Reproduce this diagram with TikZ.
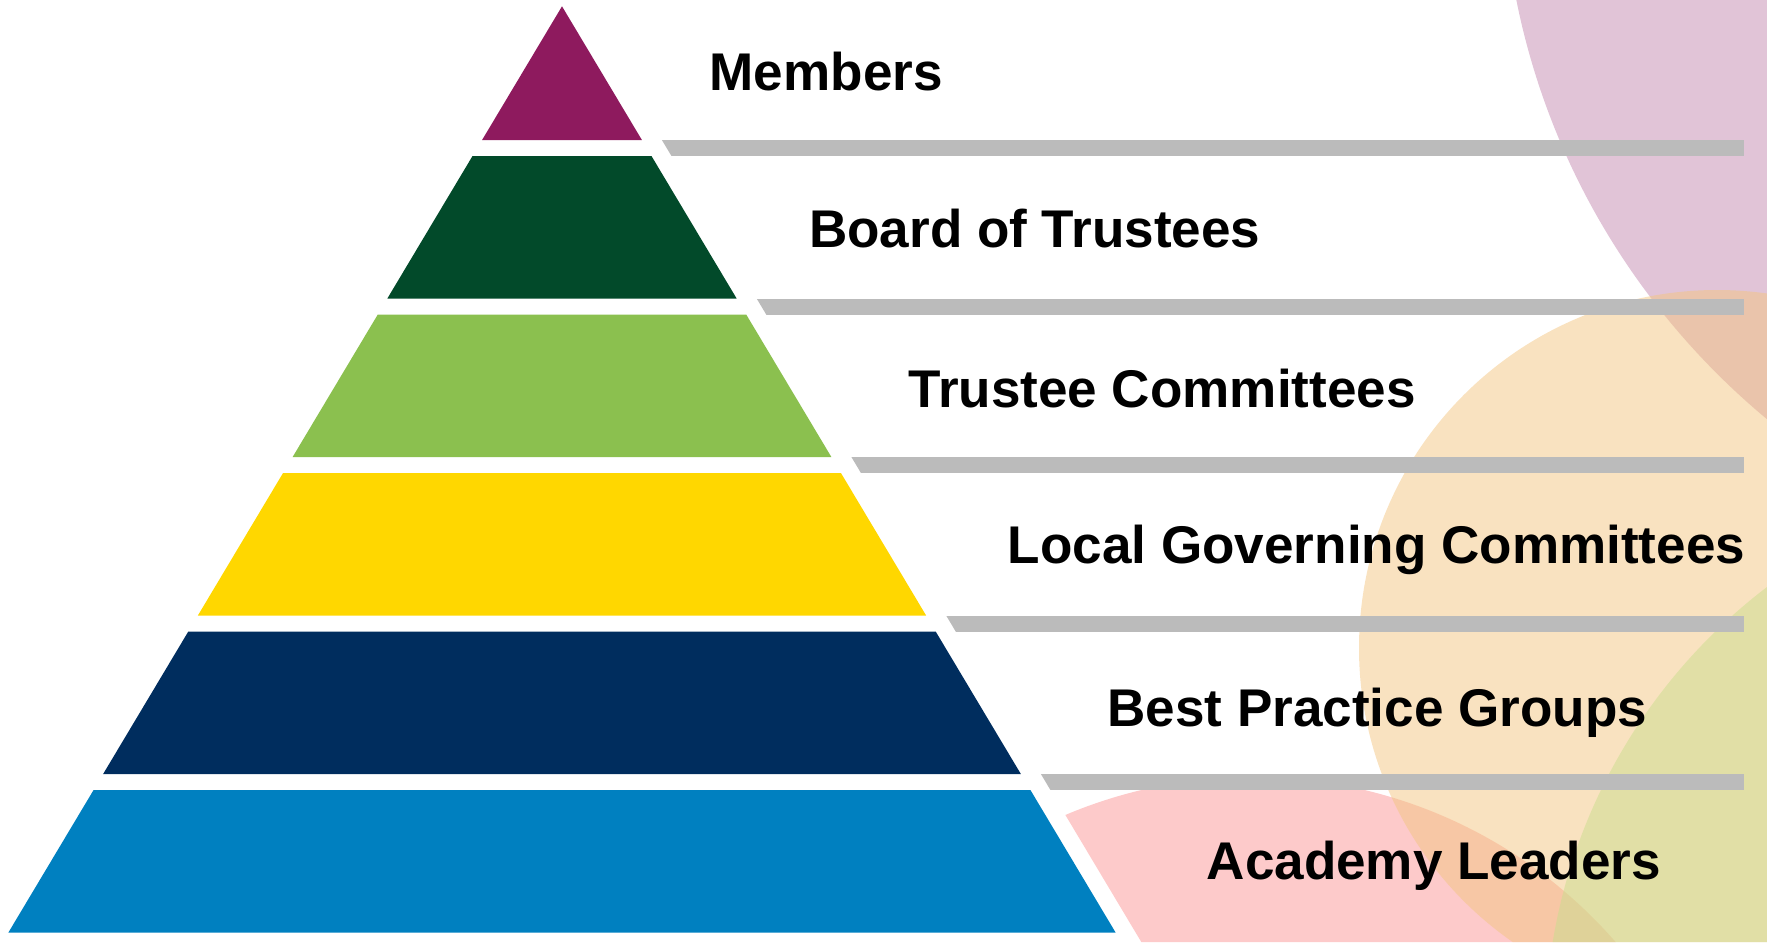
\documentclass[tikz,border=0pt]{standalone}
\usepackage{fontspec}
\setmainfont{Liberation Sans}
\definecolor{members}{HTML}{8E1A5E}
\definecolor{board}{HTML}{024A2A}
\definecolor{trustee}{HTML}{8BC04F}
\definecolor{localgov}{HTML}{FFD700}
\definecolor{bestpr}{HTML}{002D5E}
\definecolor{academy}{HTML}{0080C0}
\definecolor{divbar}{HTML}{BBBBBB}
\definecolor{blobpurple}{RGB}{195,137,175}
\definecolor{blobpeach}{RGB}{243,197,129}
\definecolor{blobpink}{RGB}{251,149,149}
\definecolor{blobgreen}{RGB}{201,222,142}

\begin{document}
\begin{tikzpicture}[% coordinates in pixels, y down
		x=0.1mm, y=-0.1mm,
		every node/.style={
			anchor=base west,	% text starts at the given point
			inner sep=0pt,
			font=\fontsize{15.1}{18}\selectfont\bfseries
		},
		blob/.style={fill opacity=.5}
	]
	\useasboundingbox (0,0) rectangle (1767,942);
	% background circles and bars, kept off the pyramid
	\begin{scope}
		\clip (578.2,0) -- (1141.3,942) -- (1767,942) -- (1767,0) -- cycle;
		\fill[blobpurple,blob] (2235,-145) circle[radius=733];
		\fill[blobpink,blob] (1253,1258) circle[radius=481];
		\fill[blobpeach,blob] (1717,648) circle[radius=358];
		\fill[blobgreen,blob] (2108,1035) circle[radius=563];
		\foreach \yt in {140,298.5,457,615.5,774}
			\fill[divbar] (500,\yt) rectangle (1744,\yt+16);
	\end{scope}
	% pyramid layers
	\foreach \col/\yt/\yb in {members/6.3/140, board/156/298.5, trustee/314.5/457,
		localgov/473/615.5, bestpr/631.5/774, academy/790/932.5}{
		\pgfmathsetmacro\dt{0.5977*(\yt-6.3)}
		\pgfmathsetmacro\db{0.5977*(\yb-6.3)}
		\fill[\col] (562-\dt,\yt) -- (562+\dt,\yt) -- (562+\db,\yb) -- (562-\db,\yb) -- cycle;
	}
	\node (L1) at (709,90) {Members};
	\node (L2) at (808.4,247) {Board of Trustees};
	\node (L3) at (907.8,407) {Trustee Committees};
	\node (L4) at (1007.2,563) {Local Governing Committees};
	\node (L5) at (1106.6,726) {Best Practice Groups};
	\node (L6) at (1206,879.5) {Academy Leaders};
\end{tikzpicture}
\end{document}
